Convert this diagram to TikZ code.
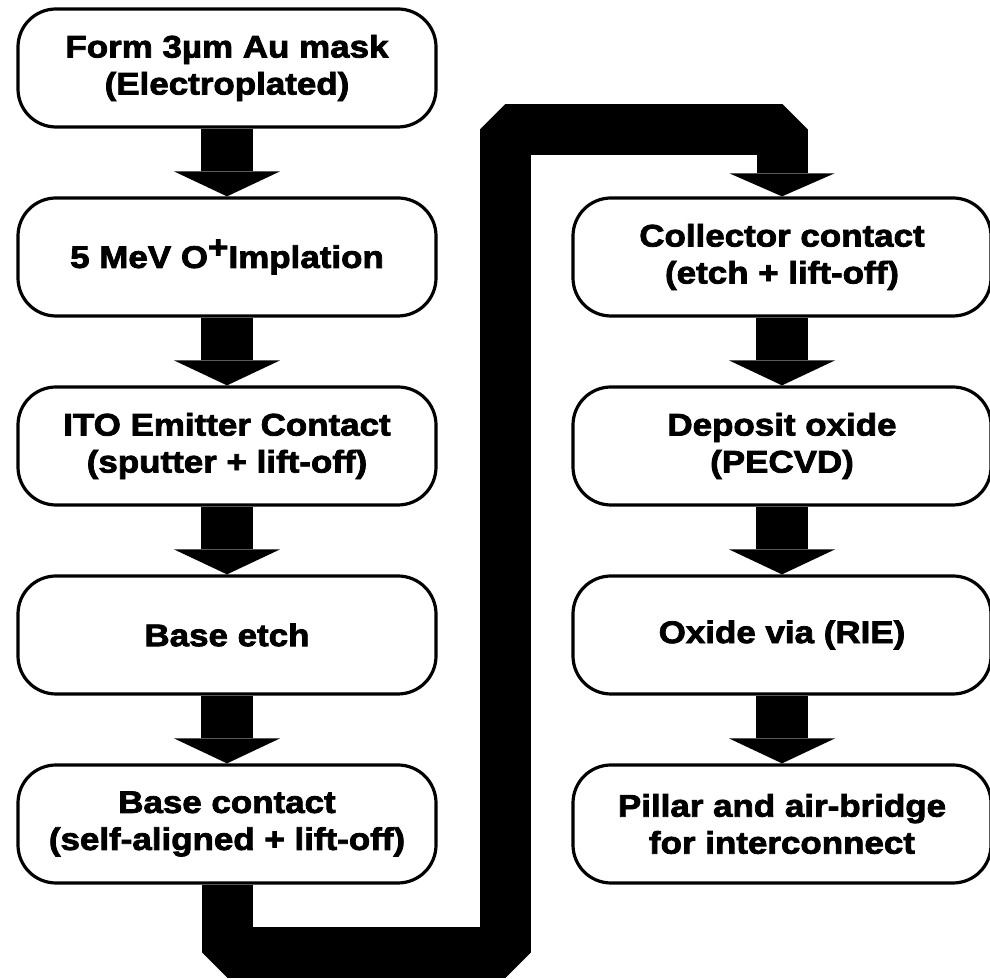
\documentclass[tikz,border=0pt]{standalone}
\usepackage{fontspec}
\newfontfamily\heavyfont{Liberation Sans Bold}[FakeStretch=1.12,FakeBold=2.5]
\usetikzlibrary{arrows.meta}

\begin{document}
\begin{tikzpicture}[x=0.5pt,y=0.5pt,
  stepbox/.style={draw,line width=1.6pt,rounded corners=19pt,fill=white,minimum width=209pt,minimum height=59pt,align=center,inner sep=2pt,font=\heavyfont\fontsize{15.6}{18.5}\selectfont},
  flow/.style={line width=26pt,-{Triangle[width=53pt,length=12.5pt,line width=0pt 0 0]}},
  bigflow/.style={line width=25.5pt,line join=bevel,-{Triangle[width=52.5pt,length=11.5pt,line width=0pt 0 0]}}]
  \useasboundingbox (0,0) rectangle (990,979);
  % left column
  \node[stepbox] (mask) at (227,911) {Form 3µm Au mask\\(Electroplated)};
  \node[stepbox] (implant) at (227,722) {5 MeV O\raisebox{0.32em}{+}Implation};
  \node[stepbox] (emitter) at (227,533) {ITO Emitter Contact\\(sputter + lift-off)};
  \node[stepbox] (baseetch) at (227,344) {Base etch};
  \node[stepbox] (basecon) at (227,155) {Base contact\\(self-aligned + lift-off)};
  % right column
  \node[stepbox] (collcon) at (782,722) {Collector contact\\(etch + lift-off)};
  \node[stepbox] (oxide) at (782,533) {Deposit oxide\\(PECVD)};
  \node[stepbox] (via) at (782,344) {Oxide via (RIE)};
  \node[stepbox] (pillar) at (782,155) {Pillar and air-bridge\\for interconnect};
  \coordinate (lowleft) at (224,26);
  \coordinate (upright) at (505,849);
  \draw[flow] (mask) -- (implant);
  \draw[flow] (implant) -- (emitter);
  \draw[flow] (emitter) -- (baseetch);
  \draw[flow] (baseetch) -- (basecon);
  \draw[bigflow] (basecon) -- (basecon |- lowleft) -- (lowleft -| upright) -- (upright) -- (upright -| collcon) -- (collcon);
  \draw[flow] (collcon) -- (oxide);
  \draw[flow] (oxide) -- (via);
  \draw[flow] (via) -- (pillar);
\end{tikzpicture}
\end{document}
